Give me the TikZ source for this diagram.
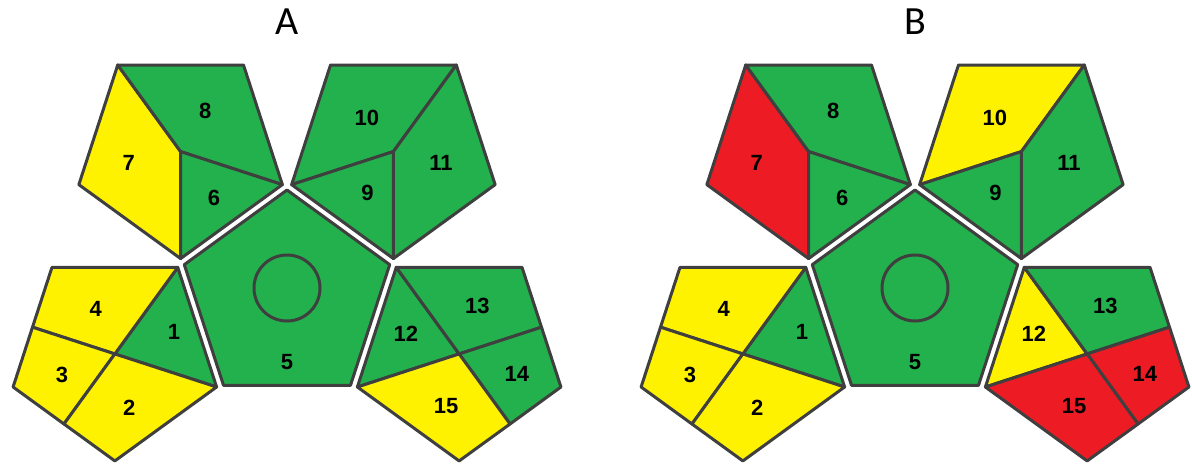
\documentclass[tikz,border=0pt]{standalone}
\usepackage{fontspec}
\setmainfont{Liberation Sans}
\newfontfamily\titlefont{Carlito}
\usepackage{tikz}
\usetikzlibrary{calc}

\definecolor{grn}{HTML}{22B14C}
\definecolor{yel}{HTML}{FFF200}
\definecolor{rd}{HTML}{ED1C24}
\definecolor{edge}{HTML}{3F3F3F}

\begin{document}
\begin{tikzpicture}[x=1pt, y=1pt,
  face/.style={draw=edge, line width=3pt, line join=round},
  lbl/.style={font=\bfseries\fontsize{22}{22}\selectfont, inner sep=0pt},
  ttl/.style={font=\titlefont\fontsize{40}{40}\selectfont, inner sep=0pt}]
\useasboundingbox (0,0) rectangle (1192,-464);
\def\R{107}
\def\r{86.6}
\foreach \p/\dx/\ca/\cb/\cc/\cd/\ce in {A/0/yel/grn/grn/grn/yel, B/628/rd/yel/yel/rd/rd} {
  \node[ttl] (\p-title) at (287+\dx,-22) {\p};
  \coordinate (\p-c5) at (287+\dx,-298);
  \coordinate (\p-c7) at ($(\p-c5)+(126:181)$);
  \coordinate (\p-c9) at ($(\p-c5)+(54:181)$);
  \coordinate (\p-c1) at ($(\p-c5)+(198:181)$);
  \coordinate (\p-c12) at ($(\p-c5)+(342:181)$);
  % middle face
  \begin{scope}[shift={(\p-c5)}]
    \filldraw[face, fill=grn] (90:108) -- (162:108) -- (234:108) -- (306:108) -- (18:108) -- cycle;
    \draw[face] (0,10) circle (33);
    \node[lbl] (\p-l5) at (0,-64) {5};
  \end{scope}
  % upper left face
  \begin{scope}[shift={(\p-c7)}]
    \filldraw[face, fill=\ca] (0,0) -- (126:\R) -- (198:\R) -- (270:\R) -- cycle;
    \filldraw[face, fill=grn] (0,0) -- (342:\R) -- (54:\R) -- (126:\R) -- cycle;
    \filldraw[face, fill=grn] (0,0) -- (270:\R) -- (342:\R) -- cycle;
    \node[lbl] (\p-l7) at (192:53) {7};
    \node[lbl] (\p-l8) at (59:48) {8};
    \node[lbl] (\p-l6) at (306:57) {6};
  \end{scope}
  % upper right face
  \begin{scope}[shift={(\p-c9)}]
    \filldraw[face, fill=\cb] (0,0) -- (198:\R) -- (126:\R) -- (54:\R) -- cycle;
    \filldraw[face, fill=grn] (0,0) -- (54:\R) -- (342:\R) -- (270:\R) -- cycle;
    \filldraw[face, fill=grn] (0,0) -- (270:\R) -- (198:\R) -- cycle;
    \node[lbl] (\p-l10) at (128:43) {10};
    \node[lbl] (\p-l11) at (346:49) {11};
    \node[lbl] (\p-l9) at (238:49) {9};
  \end{scope}
  % lower left face
  \begin{scope}[shift={(\p-c1)}]
    \filldraw[face, fill=grn] (0,0) -- (342:\R) -- (54:\R) -- cycle;
    \filldraw[face, fill=yel] (0,0) -- (54:\R) -- (126:\R) -- (162:\r) -- cycle;
    \filldraw[face, fill=yel] (0,0) -- (162:\r) -- (198:\R) -- (234:\r) -- cycle;
    \filldraw[face, fill=yel] (0,0) -- (234:\r) -- (270:\R) -- (342:\R) -- cycle;
    \node[lbl] (\p-l4) at (113:49) {4};
    \node[lbl] (\p-l1) at (20:63) {1};
    \node[lbl] (\p-l3) at (202:57) {3};
    \node[lbl] (\p-l2) at (285:56) {2};
  \end{scope}
  % lower right face
  \begin{scope}[shift={(\p-c12)}]
    \filldraw[face, fill=\cc] (0,0) -- (126:\R) -- (198:\R) -- cycle;
    \filldraw[face, fill=grn] (0,0) -- (126:\R) -- (54:\R) -- (18:\r) -- cycle;
    \filldraw[face, fill=\cd] (0,0) -- (18:\r) -- (342:\R) -- (306:\r) -- cycle;
    \filldraw[face, fill=\ce] (0,0) -- (306:\r) -- (270:\R) -- (198:\R) -- cycle;
    \node[lbl] (\p-l13) at (69:51) {13};
    \node[lbl] (\p-l12) at (159:57) {12};
    \node[lbl] (\p-l14) at (341:61) {14};
    \node[lbl] (\p-l15) at (256:54) {15};
  \end{scope}
}
\end{tikzpicture}
\end{document}
